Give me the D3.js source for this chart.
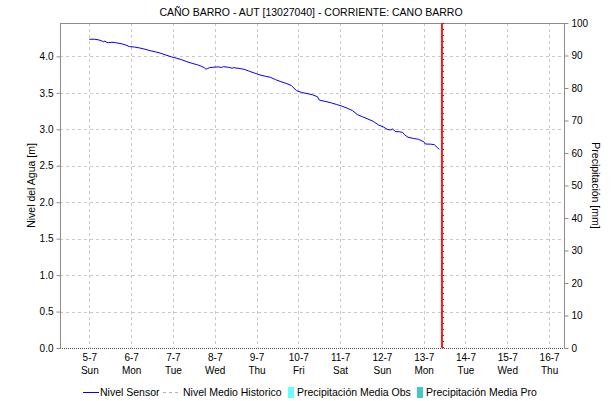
<!DOCTYPE html>
<html>
<head>
<meta charset="utf-8">
<script src="https://cdn.jsdelivr.net/npm/d3@7"></script>
<style>
  html, body { margin: 0; padding: 0; background: #fff; }
  svg { display: block; font-family: "Liberation Sans", Arial, sans-serif; }
</style>
</head>
<body>
<svg id="chart" width="613" height="401"></svg>
<script>
// Station water level readings (one row per day, times and levels aligned)
const sensorTimes = [
  "2020-07-05 00:00", "2020-07-05 03:00", "2020-07-05 05:00", "2020-07-05 07:00", "2020-07-05 08:00", "2020-07-05 09:00", "2020-07-05 10:00", "2020-07-05 11:00", "2020-07-05 13:00", "2020-07-05 15:00", "2020-07-05 17:00", "2020-07-05 19:00", "2020-07-05 21:00", "2020-07-05 23:00",
  "2020-07-06 02:00", "2020-07-06 05:00", "2020-07-06 08:00", "2020-07-06 11:00", "2020-07-06 14:00", "2020-07-06 17:00", "2020-07-06 20:00", "2020-07-06 23:00",
  "2020-07-07 02:00", "2020-07-07 05:00", "2020-07-07 08:00", "2020-07-07 11:00", "2020-07-07 14:00", "2020-07-07 16:00", "2020-07-07 18:00", "2020-07-07 19:00", "2020-07-07 20:00", "2020-07-07 21:00", "2020-07-07 23:00",
  "2020-07-08 02:00", "2020-07-08 04:00", "2020-07-08 05:00", "2020-07-08 08:00", "2020-07-08 10:00", "2020-07-08 11:00", "2020-07-08 14:00", "2020-07-08 17:00", "2020-07-08 20:00", "2020-07-08 23:00",
  "2020-07-09 02:00", "2020-07-09 05:00", "2020-07-09 08:00", "2020-07-09 11:00", "2020-07-09 14:00", "2020-07-09 17:00", "2020-07-09 20:00", "2020-07-09 23:00",
  "2020-07-10 02:00", "2020-07-10 05:00", "2020-07-10 08:00", "2020-07-10 11:00", "2020-07-10 12:00", "2020-07-10 13:00", "2020-07-10 16:00", "2020-07-10 19:00", "2020-07-10 22:00",
  "2020-07-11 01:00", "2020-07-11 04:00", "2020-07-11 07:00", "2020-07-11 10:00", "2020-07-11 13:00", "2020-07-11 16:00", "2020-07-11 19:00", "2020-07-11 22:00",
  "2020-07-12 01:00", "2020-07-12 03:00", "2020-07-12 05:00", "2020-07-12 06:00", "2020-07-12 08:00", "2020-07-12 10:00", "2020-07-12 12:00", "2020-07-12 13:00", "2020-07-12 15:00", "2020-07-12 18:00", "2020-07-12 21:00",
  "2020-07-13 00:00", "2020-07-13 01:00", "2020-07-13 04:00", "2020-07-13 06:00", "2020-07-13 08:00", "2020-07-13 09:00"
];
const sensorLevels = [
  4.235, 4.235, 4.228, 4.215, 4.200, 4.210, 4.192, 4.188, 4.194, 4.188, 4.180, 4.170, 4.155, 4.135,
  4.128, 4.115, 4.098, 4.078, 4.062, 4.043, 4.018, 3.995,
  3.975, 3.955, 3.927, 3.905, 3.885, 3.868, 3.845, 3.823, 3.835, 3.845, 3.851,
  3.856, 3.848, 3.859, 3.850, 3.838, 3.845, 3.835, 3.822, 3.795, 3.770,
  3.745, 3.728, 3.713, 3.680, 3.653, 3.630, 3.600, 3.530,
  3.505, 3.490, 3.475, 3.447, 3.402, 3.395, 3.380, 3.362, 3.340,
  3.318, 3.290, 3.258, 3.200, 3.170, 3.140, 3.110, 3.060,
  3.030, 3.000, 2.990, 3.005, 2.967, 2.967, 2.955, 2.925, 2.890, 2.875, 2.863,
  2.830, 2.798, 2.796, 2.790, 2.745, 2.726
];
// Current observation instant (marker)
const nowTime = "2020-07-13 10:30";

// Axis ticks
const levelTicks = [0, 0.5, 1.0, 1.5, 2.0, 2.5, 3.0, 3.5, 4.0];
const rainTicks = [0, 10, 20, 30, 40, 50, 60, 70, 80, 90, 100];
const dayTicks = [
  "2020-07-05", "2020-07-06", "2020-07-07", "2020-07-08", "2020-07-09", "2020-07-10",
  "2020-07-11", "2020-07-12", "2020-07-13", "2020-07-14", "2020-07-15", "2020-07-16"
];
const dayDomain = ["2020-07-04 07:10", "2020-07-16 08:34"];

// Legend entries
const legendLabels = ["Nivel Sensor", "Nivel Medio Historico", "Precipitación Media Obs", "Precipitación Media Pro"];
const legendColors = ["#0000ff", "#b4b4b4", "#66ffff", "#40c8c8"];

const parseT = d3.timeParse("%Y-%m-%d %H:%M");
const parseD = d3.timeParse("%Y-%m-%d");

const svg = d3.select("#chart");
const W = 613, H = 401;
const m = { left: 60, right: 49, top: 23, bottom: 53 };
const x0 = m.left, x1 = W - m.right, y0 = H - m.bottom, y1 = m.top;

const x = d3.scaleTime().domain(dayDomain.map(parseT)).range([x0, x1]);
const yL = d3.scaleLinear().domain([0, 4.458]).range([y0, y1]);
const yR = d3.scaleLinear().domain([0, 100]).range([y0, y1]);

const data = sensorTimes.map((t, i) => ({ t: parseT(t), v: sensorLevels[i] }));

// Grid lines
const grid = svg.append("g").attr("stroke", "#c8c8c8").attr("stroke-dasharray", "3,3").attr("stroke-width", 1);
dayTicks.map(parseD).forEach(d => {
  const px = Math.round(x(d)) + 0.5;
  grid.append("line").attr("x1", px).attr("x2", px).attr("y1", y1).attr("y2", y0);
});
levelTicks.filter(v => v > 0).forEach(v => {
  const py = Math.round(yL(v)) + 0.5;
  grid.append("line").attr("x1", x0).attr("x2", x1).attr("y1", py).attr("y2", py);
});

// Frame: top and side axes in grey, bottom dotted
svg.append("line").attr("x1", x0).attr("x2", x1 + 0.5).attr("y1", y1 + 0.5).attr("y2", y1 + 0.5).attr("stroke", "#8c8c8c");
svg.append("line").attr("x1", x0).attr("x2", x1).attr("y1", y0 + 0.5).attr("y2", y0 + 0.5)
  .attr("stroke", "#505050").attr("stroke-dasharray", "1,1");

// Left axis
const axL = svg.append("g").attr("transform", `translate(${x0 + 0.5},0)`)
  .call(d3.axisLeft(yL).tickValues(levelTicks).tickFormat(d3.format(".1f")).tickSize(4).tickPadding(3));
axL.select(".domain").attr("stroke", "#8c8c8c").attr("d", `M0,${y0 + 0.5}V${y1}`);
axL.selectAll(".tick line").attr("stroke", "#8c8c8c");
axL.selectAll("text").attr("font-size", 10).attr("fill", "#000").attr("font-family", "Liberation Sans, Arial, sans-serif");

// Right axis
const axR = svg.append("g").attr("transform", `translate(${x1 + 0.5},0)`)
  .call(d3.axisRight(yR).tickValues(rainTicks).tickFormat(d3.format("d")).tickSize(4).tickPadding(3));
axR.select(".domain").attr("stroke", "#8c8c8c").attr("d", `M0,${y0 + 0.5}V${y1}`);
axR.selectAll(".tick line").attr("stroke", "#8c8c8c");
axR.selectAll("text").attr("font-size", 10).attr("fill", "#000").attr("font-family", "Liberation Sans, Arial, sans-serif");

// Bottom axis: two-line day labels
const axB = svg.append("g").attr("transform", `translate(0,${y0})`)
  .call(d3.axisBottom(x).tickValues(dayTicks.map(parseD)).tickSize(0).tickPadding(4).tickFormat(""));
axB.select(".domain").remove();
axB.selectAll(".tick").each(function(d) {
  const g = d3.select(this);
  g.select("text").remove();
  const t = g.append("text").attr("text-anchor", "middle").attr("font-size", 10).attr("fill", "#000");
  t.append("tspan").attr("x", 0).attr("y", 13).text(d3.timeFormat("%-d-%-m")(d));
  t.append("tspan").attr("x", 0).attr("y", 26).text(d3.timeFormat("%a")(d));
});

// Sensor water level
svg.append("path").datum(data)
  .attr("fill", "none").attr("stroke", "#0000ff").attr("stroke-width", 1)
  .attr("d", d3.line().x(d => x(d.t)).y(d => yL(d.v)));

// Current-time marker
const nx = x(parseT(nowTime));
svg.append("line").attr("x1", nx).attr("x2", nx).attr("y1", y1).attr("y2", y0)
  .attr("stroke", "#ff1a1a").attr("stroke-width", 2);
svg.append("line").attr("x1", nx + 1.5).attr("x2", nx + 1.5).attr("y1", y1).attr("y2", y0)
  .attr("stroke", "#b00000").attr("stroke-width", 1).attr("stroke-dasharray", "1,5");

// Title
svg.append("text").attr("x", 311).attr("y", 16).attr("text-anchor", "middle")
  .attr("font-size", 10.5).attr("fill", "#000")
  .text("CAÑO BARRO - AUT [13027040] - CORRIENTE: CANO BARRO");

// Axis titles
svg.append("text").attr("transform", `translate(35,${(y0 + y1) / 2}) rotate(-90)`)
  .attr("text-anchor", "middle").attr("font-size", 10.5).attr("fill", "#000").text("Nivel del Agua [m]");
svg.append("text").attr("transform", `translate(592,${(y0 + y1) / 2}) rotate(90)`)
  .attr("text-anchor", "middle").attr("font-size", 10.5).attr("fill", "#000").text("Precipitación [mm]");

// Legend
const ly = 392;
const leg = svg.append("g").attr("font-size", 10.5).attr("fill", "#000");
const legX = [83, 163, 288, 417];
const legTextX = [100, 183, 297, 426];
leg.append("line").attr("x1", legX[0]).attr("x2", legX[0] + 16).attr("y1", ly + 0.5).attr("y2", ly + 0.5)
  .attr("stroke", legendColors[0]);
leg.append("line").attr("x1", legX[1]).attr("x2", legX[1] + 16).attr("y1", ly + 0.5).attr("y2", ly + 0.5)
  .attr("stroke", legendColors[1]).attr("stroke-dasharray", "3,3");
leg.append("rect").attr("x", legX[2]).attr("y", ly - 5).attr("width", 6).attr("height", 11).attr("fill", legendColors[2]);
leg.append("rect").attr("x", legX[3]).attr("y", ly - 5).attr("width", 6).attr("height", 11).attr("fill", legendColors[3]);
legendLabels.forEach((l, i) => {
  leg.append("text").attr("x", legTextX[i]).attr("y", ly + 4).text(l);
});
</script>
</body>
</html>
